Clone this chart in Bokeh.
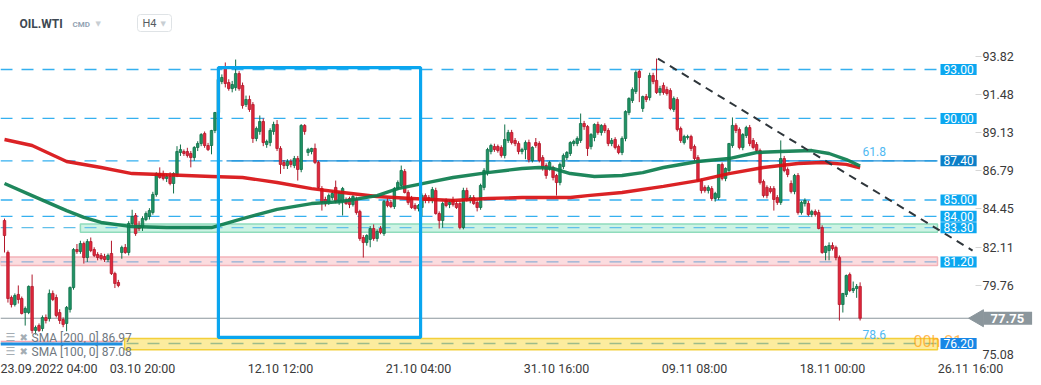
from math import pi
from bokeh.plotting import figure
from bokeh.models import Range1d, FixedTicker, Label, BoxAnnotation, ColumnDataSource, PrintfTickFormatter
from bokeh.core.properties import value
from bokeh.embed import file_html
from bokeh.resources import INLINE

# ---------------- data (OIL.WTI, H4 candles) ----------------
open_ = [
    83.74, 81.78, 79.02, 78.59, 79.21, 78.96, 78.10, 78.10, 79.70, 77.00,
    77.30, 77.12, 77.79, 77.73, 79.27, 79.02, 78.10, 77.67, 77.43, 78.29,
    79.63, 81.96, 81.84, 82.33, 81.47, 82.45, 81.96, 81.66, 81.60, 81.53,
    81.35, 81.72, 80.49, 79.94, 81.78, 82.09, 81.78, 83.56, 84.05, 83.44,
    83.31, 83.80, 83.99, 84.23, 85.34, 86.62, 86.56, 86.32, 86.44, 86.01,
    86.56, 87.91, 87.97, 87.97, 87.85, 87.60, 88.22, 88.46, 89.08, 88.34,
    88.34,
    89.26, 90.36, 92.26, 93.06, 92.20, 91.83, 91.89, 92.75, 92.02, 90.85,
    91.16, 90.85, 88.77, 89.20, 89.81, 88.40, 88.52, 89.20, 89.63, 88.16,
    87.30, 87.11, 87.36, 87.11, 87.54, 86.87, 89.57, 87.91, 87.97, 88.16,
    87.30, 85.70, 85.03, 84.85, 85.15, 85.77, 84.91, 84.91, 84.97, 85.09,
    84.72, 85.03, 84.29, 82.70, 82.39, 82.58, 83.25, 82.64, 83.25, 82.94,
    84.91, 84.85, 84.60, 85.70, 85.89, 86.75, 85.46, 85.09, 84.66, 84.48,
    84.54, 85.27,
    85.15, 84.97, 85.58, 84.17, 83.74, 84.97, 84.72, 85.03, 84.78, 84.78,
    83.31, 85.58, 84.97, 85.15, 84.85, 84.54, 85.77, 86.68, 87.97, 88.28,
    88.28, 88.22, 87.73, 88.65, 89.14, 88.65, 88.46, 87.97, 88.09, 88.52,
    87.42, 88.52, 88.46, 87.60, 87.11, 86.93, 86.99, 86.50, 86.07, 87.05,
    87.60, 87.85, 88.46, 88.46, 88.65, 89.69, 89.50, 88.28, 88.83, 89.63,
    89.14, 89.57, 89.26, 88.46, 88.71, 88.28, 87.91, 88.77, 90.36, 91.10,
    91.65,
    92.88, 90.61, 91.34, 91.28, 92.63, 92.33, 91.59, 92.02, 91.77, 91.71,
    90.55, 91.16, 89.38, 88.52, 88.83, 88.89, 88.28, 87.60, 86.19, 85.77,
    85.58, 85.70, 85.09, 85.15, 87.18, 86.32, 86.81, 88.34, 89.57, 89.32,
    88.22, 88.95, 89.44, 88.65, 88.40, 88.03, 86.13, 85.77, 85.70, 85.70,
    85.15, 84.85, 87.54, 86.87, 86.01, 85.52, 86.50, 84.23, 84.78, 84.78,
    84.11, 84.29, 84.23, 83.31, 81.78, 81.90, 82.21, 82.09, 81.47, 78.59,
    79.21, 80.43, 79.45, 79.57, 79.70,
]
high_ = [
    83.86, 81.90, 79.14, 79.27, 79.76, 79.08, 78.47, 79.76, 80.43, 77.30,
    77.43, 77.92, 77.98, 79.51, 79.45, 79.20, 78.30, 77.80, 78.50, 79.70,
    82.05, 82.30, 82.50, 82.45, 82.60, 82.70, 82.10, 81.80, 81.75, 81.70,
    81.72, 82.50, 80.60, 80.10, 82.20, 82.30, 83.70, 84.40, 84.20, 83.70,
    84.00, 84.30, 84.50, 85.50, 86.70, 87.00, 86.80, 86.60, 86.70, 86.70,
    88.30, 88.40, 88.10, 88.20, 88.00, 88.30, 88.60, 89.10, 89.20, 88.50,
    89.30,
    90.40, 92.82, 92.70, 93.43, 92.40, 92.30, 93.61, 92.90, 92.20, 91.40,
    91.40, 91.00, 89.50, 90.18, 90.00, 88.70, 89.40, 89.80, 89.90, 88.30,
    87.45, 87.50, 87.50, 87.70, 87.70, 89.65, 89.65, 88.20, 88.20, 88.46,
    87.40, 85.85, 85.20, 85.40, 85.55, 86.19, 85.55, 85.80, 85.15, 85.20,
    85.30, 85.20, 84.40, 82.85, 82.90, 83.40, 83.50, 83.20, 83.40, 85.00,
    85.10, 85.00, 85.80, 86.20, 87.11, 86.90, 85.60, 85.25, 84.80, 84.75,
    85.40, 85.40,
    85.30, 85.80, 85.75, 84.30, 84.90, 85.10, 85.00, 85.20, 84.95, 84.95,
    85.75, 85.75, 85.30, 85.30, 85.00, 86.00, 86.95, 88.20, 88.45, 88.45,
    88.40, 88.35, 89.63, 89.30, 89.30, 88.80, 88.60, 88.20, 88.65, 88.70,
    88.30, 88.80, 88.60, 87.75, 87.25, 87.40, 87.10, 86.60, 87.30, 87.85,
    88.00, 88.60, 88.70, 88.90, 90.30, 89.85, 89.60, 89.10, 89.70, 89.80,
    89.65, 89.70, 89.40, 88.80, 88.85, 88.40, 88.90, 90.50, 91.30, 91.90,
    92.95,
    93.00, 91.40, 91.50, 92.80, 92.80, 93.67, 92.00, 92.20, 91.95, 91.85,
    91.35, 91.30, 89.50, 89.00, 89.00, 89.00, 88.40, 87.75, 86.30, 85.90,
    85.90, 85.85, 85.50, 87.20, 87.30, 87.00, 88.50, 90.06, 89.70, 89.45,
    89.10, 89.55, 89.60, 88.80, 88.55, 88.15, 86.25, 85.90, 85.85, 85.85,
    85.30, 88.65, 87.70, 87.00, 86.20, 86.60, 86.65, 84.95, 85.10, 84.95,
    84.40, 84.42, 84.40, 83.45, 82.20, 82.40, 82.40, 82.20, 81.60, 79.30,
    80.43, 80.55, 80.00, 79.85, 79.95,
]
low_ = [
    81.78, 78.71, 78.41, 78.47, 78.65, 77.98, 77.30, 78.00, 76.81, 76.75,
    76.90, 76.95, 77.43, 77.55, 78.80, 77.80, 77.40, 77.20, 76.95, 78.10,
    79.50, 81.70, 81.70, 81.10, 81.20, 81.80, 81.50, 81.30, 81.30, 81.20,
    81.20, 80.40, 79.60, 79.65, 81.40, 81.70, 81.60, 83.40, 82.80, 83.10,
    83.10, 83.70, 83.80, 84.10, 85.20, 86.30, 86.20, 86.10, 85.90, 85.40,
    86.40, 87.70, 87.70, 87.60, 87.00, 87.40, 88.00, 88.30, 88.20, 88.00,
    87.80,
    89.10, 89.87, 92.10, 91.90, 91.70, 91.60, 91.70, 91.70, 90.60, 90.70,
    90.40, 88.50, 88.60, 89.00, 88.30, 88.20, 88.30, 89.00, 88.00, 86.60,
    86.90, 86.90, 87.00, 86.95, 86.19, 86.70, 89.00, 87.70, 87.80, 87.20,
    85.70, 84.35, 84.60, 84.70, 85.00, 84.80, 84.70, 84.05, 84.70, 84.50,
    84.60, 84.10, 82.50, 81.47, 82.20, 82.10, 82.50, 82.45, 82.90, 82.80,
    84.55, 84.50, 84.45, 85.60, 85.75, 85.40, 84.70, 84.45, 84.35, 84.30,
    84.00, 84.80,
    84.80, 84.80, 84.10, 83.25, 83.30, 84.55, 84.50, 84.60, 84.45, 83.20,
    83.20, 84.90, 84.80, 84.70, 84.30, 84.40, 85.60, 86.50, 87.80, 87.95,
    87.90, 87.60, 87.55, 88.50, 88.40, 88.30, 87.80, 87.80, 87.50, 87.30,
    87.30, 88.20, 87.30, 86.80, 86.30, 86.80, 86.20, 85.27, 85.90, 86.90,
    87.45, 87.70, 88.30, 88.30, 88.50, 89.30, 87.70, 88.10, 88.60, 89.00,
    88.95, 89.10, 88.30, 88.30, 88.10, 87.80, 87.75, 88.60, 90.20, 90.95,
    91.50,
    91.00, 90.40, 91.00, 91.10, 92.10, 91.50, 91.40, 91.45, 91.40, 90.50,
    90.40, 89.20, 88.50, 88.40, 88.70, 88.00, 87.40, 86.10, 85.40, 85.45,
    85.40, 84.95, 84.90, 85.00, 86.20, 86.15, 86.65, 88.20, 89.10, 88.10,
    88.05, 88.80, 88.30, 88.10, 87.90, 85.95, 85.15, 85.10, 85.40, 84.35,
    84.70, 84.70, 86.70, 86.40, 85.40, 85.35, 84.10, 84.10, 84.60, 84.00,
    83.95, 83.98, 83.20, 81.70, 81.30, 81.30, 81.90, 81.30, 77.61, 78.10,
    79.05, 79.35, 79.30, 79.00, 77.61,
]
close_ = [
    82.82, 78.96, 78.59, 79.14, 78.90, 78.04, 78.35, 79.70, 77.00, 77.18,
    77.00, 77.79, 77.61, 79.27, 78.90, 77.92, 77.61, 77.37, 78.41, 79.63,
    81.96, 81.84, 82.33, 81.47, 82.45, 81.90, 81.60, 81.47, 81.41, 81.35,
    81.60, 80.49, 79.88, 79.76, 82.09, 81.78, 83.56, 83.99, 82.94, 83.25,
    83.86, 84.17, 84.35, 85.34, 86.62, 86.38, 86.32, 86.44, 86.01, 86.62,
    87.97, 88.09, 87.85, 87.73, 87.60, 88.22, 88.46, 89.01, 88.34, 88.09,
    89.26,
    90.36, 92.39, 92.51, 92.14, 91.83, 92.08, 92.75, 91.83, 90.79, 91.16,
    90.55, 88.77, 89.38, 89.81, 88.52, 88.59, 89.26, 89.63, 88.16, 87.18,
    87.11, 87.36, 87.18, 87.54, 86.87, 89.57, 89.20, 88.09, 88.16, 87.30,
    85.77, 84.85, 84.78, 85.27, 85.40, 84.91, 85.46, 85.70, 84.78, 84.72,
    85.21, 84.23, 82.64, 82.39, 82.82, 83.25, 82.64, 83.07, 83.01, 84.91,
    84.66, 84.60, 85.70, 86.07, 86.81, 85.46, 84.85, 84.54, 84.48, 84.66,
    85.27, 84.97,
    84.97, 85.64, 84.17, 83.74, 84.78, 84.66, 84.85, 84.72, 84.54, 83.31,
    85.58, 85.03, 85.15, 84.78, 84.54, 85.89, 86.81, 88.09, 88.34, 88.09,
    88.03, 87.73, 88.71, 89.14, 88.52, 88.46, 87.97, 88.09, 88.52, 87.48,
    88.22, 88.34, 87.42, 86.99, 86.50, 87.30, 86.38, 86.07, 87.18, 87.73,
    87.91, 88.52, 88.59, 88.77, 89.69, 89.50, 88.16, 89.01, 89.63, 89.14,
    89.57, 89.26, 88.46, 88.65, 88.22, 87.91, 88.77, 90.42, 91.22, 91.77,
    92.82,
    92.51, 91.34, 91.16, 92.63, 92.26, 91.59, 91.83, 91.59, 91.53, 90.61,
    91.22, 89.32, 88.65, 88.89, 88.89, 88.16, 87.54, 86.19, 85.58, 85.58,
    85.77, 85.09, 85.40, 87.18, 86.32, 86.93, 88.46, 89.57, 89.26, 88.22,
    89.01, 89.44, 88.46, 88.22, 88.03, 86.07, 85.27, 85.27, 85.52, 85.03,
    84.85, 87.54, 86.81, 86.56, 85.52, 86.50, 84.23, 84.85, 84.97, 84.11,
    84.29, 84.11, 83.25, 81.78, 82.15, 82.21, 82.02, 81.47, 78.59, 79.27,
    80.37, 79.45, 79.57, 79.70, 77.75,
]

# SMA 200 (red) and SMA 100 (green), read at candle indices
sma200_x = [0, 8, 18, 28, 37, 45, 60, 69, 79, 89, 98, 108, 118, 130, 140, 150,
            164, 169, 179, 191, 201, 210, 220, 230, 237, 244, 248]
sma200_y = [88.71, 88.34, 87.36, 86.99, 86.62, 86.56, 86.44, 86.38, 86.07, 85.70,
            85.46, 85.21, 85.09, 84.97, 85.09, 85.15, 85.15, 85.27, 85.46, 85.83,
            86.19, 86.62, 86.99, 87.24, 87.30, 87.18, 86.97]
sma100_x = [0, 8, 18, 23, 28, 37, 47, 60, 69, 79, 89, 98, 108, 114, 124, 130, 140,
            150, 155, 159, 164, 171, 179, 185, 191, 201, 210, 218, 225, 234, 239, 244, 248]
sma100_y = [86.01, 85.27, 84.35, 83.93, 83.62, 83.37, 83.31, 83.31, 83.86, 84.42,
            84.78, 84.91, 85.27, 85.70, 86.13, 86.38, 86.68, 86.93, 86.99, 86.93,
            86.62, 86.44, 86.50, 86.68, 86.99, 87.36, 87.54, 87.91, 87.97, 88.03,
            87.85, 87.48, 87.08]

# x-axis tick labels (every 40 candles)
date_ticks = [0, 40, 80, 120, 160, 200, 240, 280]
date_labels = ["23.09.2022 04:00", "03.10 20:00", "12.10 12:00", "21.10 04:00",
               "31.10 16:00", "09.11 08:00", "18.11 00:00", "26.11 16:00"]
price_ticks = [93.82, 91.48, 89.13, 86.79, 84.45, 82.11, 79.76]
low_tick_label = "75.08"

# horizontal levels
level_prices = [93.00, 90.00, 87.40, 85.00, 84.00, 83.30, 81.20, 76.20]
fib_618 = 87.40
# zones (price bands) and the study rectangle (candle index / price)
zone_green = dict(left=22.0, top=83.52, bottom=83.02)
zone_pink = dict(left=-1.2, top=81.50, bottom=80.98)
zone_yellow = dict(left=34.8, top=76.50, bottom=75.82)
study_box = dict(left=62.0, right=120.6, top=93.12, bottom=76.57)
trend_x = [189.4, 280.6]
trend_y = [93.67, 81.90]

# ---------------- layout helpers (reference pixel -> data) ----------------
X0, DX = 4.0, 3.45
PY0, DPY = 69.0, 16.31
def X(px):
    return (px - X0) / DX
def P(py):
    return 93.0 - (py - PY0) / DPY

W, H = 1041, 385
AXIS_X = 975      # pixel column of the price axis
BB = 25
FONT = "Roboto"

p = figure(width=W, height=H, x_range=Range1d(X(0), X(W)),
           y_range=Range1d(P(H - BB), P(0)), y_axis_location="right",
           output_backend="svg", toolbar_location=None,
           min_border_left=0, min_border_top=0, min_border_right=0, min_border_bottom=BB)
p.outline_line_color = None
p.xgrid.visible = False
p.ygrid.visible = False
p.background_fill_color = "white"
p.border_fill_color = "white"

# axes
p.yaxis.fixed_location = X(AXIS_X)
p.yaxis.ticker = FixedTicker(ticks=price_ticks)
p.yaxis.formatter = PrintfTickFormatter(format="%.2f")
p.yaxis.axis_line_color = None
p.yaxis.major_tick_out = 6
p.yaxis.major_tick_in = 0
p.yaxis.minor_tick_line_color = None
p.yaxis.major_tick_line_color = "#d6d6d6"
p.yaxis.major_label_standoff = 1
p.yaxis.major_label_text_font = FONT
p.yaxis.major_label_text_font_size = "12.5px"
p.yaxis.major_label_text_color = "#3a3a3a"

p.xaxis.ticker = FixedTicker(ticks=date_ticks)
p.xaxis.major_label_overrides = {t: s for t, s in zip(date_ticks, date_labels)}
p.xaxis.axis_line_color = None
p.xaxis.major_tick_out = 0
p.xaxis.major_tick_in = 0
p.xaxis.minor_tick_line_color = None
p.xaxis.major_label_standoff = 0
p.xaxis.major_label_text_align = "left"
p.xaxis.major_label_text_font = FONT
p.xaxis.major_label_text_font_size = "12.5px"
p.xaxis.major_label_text_color = "#3a3a3a"

XR = X(937)
XL = X(0)

# zones
for z, fc, lc in [(zone_green, "#cdf3e4", "#8fdcbc"),
                  (zone_pink, "#fbdcdf", "#f3b3b9"),
                  (zone_yellow, "#fcec9e", "#f3cf3a")]:
    p.add_layout(BoxAnnotation(left=z["left"], right=XR, top=z["top"], bottom=z["bottom"],
                               fill_color=fc, fill_alpha=1.0, line_color=lc, line_alpha=1.0,
                               line_width=1.5, level="underlay"))

# dashed level lines
lvl_colors = ["#35b0ef", "#35b0ef", "#35b0ef", "#35b0ef", "#35b0ef", "#62c0ea", "#8fb0d6", "#9dbb8a"]
p.segment(x0=[XL] * len(level_prices), y0=level_prices, x1=[XR] * len(level_prices),
          y1=level_prices, line_color=lvl_colors, line_width=1.3, line_dash="12 9")
# fib 61.8 solid line
p.segment(x0=[X(226)], y0=[fib_618], x1=[XR], y1=[fib_618], line_color="#1c8fd8", line_width=1.2)
# current price line
p.segment(x0=[XL], y0=[close_[-1]], x1=[X(AXIS_X)], y1=[close_[-1]], line_color="#8b969c", line_width=1.2)

# candles
n = len(close_)
xs = list(range(n))
up = [c >= o for o, c in zip(open_, close_)]
src = ColumnDataSource(dict(
    x=xs, high=high_, low=low_,
    top=[max(o, c) for o, c in zip(open_, close_)],
    bottom=[min(o, c) for o, c in zip(open_, close_)],
    fill=["#1f9466" if u else "#e2283c" for u in up],
    line=["#0f6f47" if u else "#b3172a" for u in up],
))
p.segment(x0="x", y0="high", x1="x", y1="low", line_color="line", line_width=1, source=src)
p.vbar(x="x", width=0.72, top="top", bottom="bottom", fill_color="fill",
       line_color="line", line_width=0.8, source=src)

# SMAs
p.line(sma200_x, sma200_y, line_color="#d80f12", line_width=3.4, line_alpha=0.92, line_join="round")
p.line(sma100_x, sma100_y, line_color="#0c7d4e", line_width=3.4, line_alpha=0.92, line_join="round")

# trend line
p.line(trend_x, trend_y, line_color="#2f363b", line_width=2, line_dash="8 6")

# study rectangle
p.add_layout(BoxAnnotation(left=study_box["left"], right=study_box["right"],
                           top=study_box["top"], bottom=study_box["bottom"],
                           fill_alpha=0, line_color="#0aa6ef", line_alpha=1.0, line_width=3.2))

# bottom-left lines over the SMA legend
p.segment(x0=[XL], y0=[P(341)], x1=[X(122)], y1=[P(341)], line_color="#f2a7b3", line_width=1.5)

# texts
def txt(px, py, s, color, size, bold=False, alpha=1.0, font=FONT):
    p.text(x=[X(px)], y=[P(py)], text=[s], text_color=color, text_font=value(font),
           text_font_size=size, text_baseline="middle", text_align="left",
           text_font_style="bold" if bold else "normal", text_alpha=alpha)

p.add_layout(BoxAnnotation(left=X(137), right=X(171), top=P(14), bottom=P(31),
                           fill_color="white", fill_alpha=1.0, line_color="#dfe3e6",
                           line_alpha=1.0, line_width=1, border_radius=3, level="underlay"))
txt(19, 23, "OIL.WTI", "#3d4852", "12px", bold=True)
txt(72, 24, "CMD", "#93a3b3", "8px", bold=True)
txt(95, 23, "▼", "#c8ced3", "7px", font="DejaVu Sans")
txt(142, 23, "H4", "#555c62", "11px")
txt(160, 23, "▼", "#c8ced3", "7px", font="DejaVu Sans")

txt(5, 337, "☰", "#a4adb4", "11px", font="DejaVu Sans")
txt(19, 337, "✖", "#a4adb4", "10px", font="DejaVu Sans")
txt(31, 337.5, "SMA [200, 0] 86.97", "#6f7880", "12px")
txt(5, 351, "☰", "#a4adb4", "11px", font="DejaVu Sans")
txt(19, 351, "✖", "#a4adb4", "10px", font="DejaVu Sans")
txt(31, 351.5, "SMA [100, 0] 87.08", "#6f7880", "12px")
p.segment(x0=[XL], y0=[P(343.5)], x1=[X(122)], y1=[P(343.5)], line_color="#1f8fe0", line_width=3)

txt(862, 151, "61.8", "#4fb9f2", "12px")
txt(862, 334, "78.6", "#4fb9f2", "12px")
txt(913, 341, "00h 21", "#ffa31a", "16px", alpha=0.75)

# level price boxes
box_cols = ["#0ba7f0", "#0ba7f0", "#0b7fc8", "#0ba7f0", "#0ba7f0", "#0ba7f0", "#0ba7f0", "#1787e6"]
for pr, bc in zip(level_prices, box_cols):
    p.add_layout(Label(x=X(940), y=pr, text=f"{pr:.2f}", text_color="white", text_font=FONT,
                       text_font_size="12px", text_baseline="middle", text_align="left",
                       background_fill_color=bc,
                       padding=dict(left=3, right=3, top=1, bottom=1)))

# current price tag (arrow + box)
p.scatter(x=[X(978)], y=[close_[-1]], marker="triangle", angle=pi / 2, size=17,
          fill_color="#8b969c", line_color="#8b969c")
p.add_layout(Label(x=X(983), y=close_[-1], text=f"{close_[-1]:.2f}", text_color="white",
                   text_font=FONT, text_font_size="13px", text_font_style="bold",
                   text_baseline="middle", text_align="left", background_fill_color="#8b969c",
                   padding=dict(left=7, right=8, top=2, bottom=2)))
# lowest price-axis label
p.add_layout(Label(x=X(982), y=P(354), text=low_tick_label, text_color="#3a3a3a", text_font=FONT,
                   text_font_size="12.5px", text_baseline="middle", text_align="left"))

open("out.html", "w").write(file_html(p, INLINE))
